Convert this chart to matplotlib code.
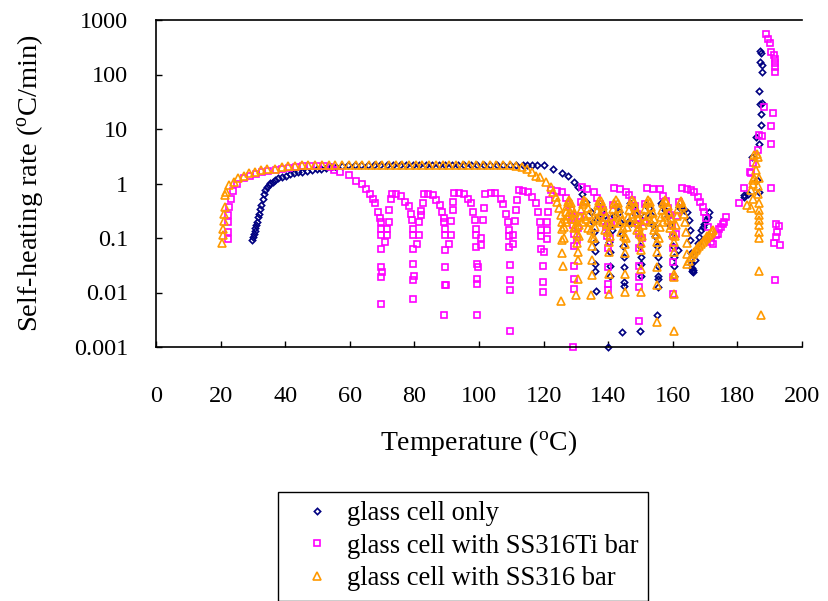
import matplotlib
matplotlib.use('Agg')
import matplotlib.pyplot as plt
from matplotlib.ticker import FixedLocator, FixedFormatter, NullLocator

plt.rcParams['font.family'] = ['Liberation Serif', 'DejaVu Serif']
plt.rcParams['mathtext.fontset'] = 'custom'
plt.rcParams['mathtext.rm'] = 'Liberation Serif'
plt.rcParams['mathtext.it'] = 'Liberation Serif:italic'

# ---------------- data ----------------
x_ticks = [0, 20, 40, 60, 80, 100, 120, 140, 160, 180, 200]
x_tick_labels = ['0', '20', '40', '60', '80', '100', '120', '140', '160', '180', '200']
y_ticks = [0.001, 0.01, 0.1, 1, 10, 100, 1000]
y_tick_labels = ['0.001', '0.01', '0.1', '1', '10', '100', '1000']
series_labels = ['glass cell only', 'glass cell with SS316Ti bar', 'glass cell with SS316 bar']

# glass cell only
glass_rise_T = [29.7, 30.0, 30.2, 30.5, 30.7, 31.0, 31.2, 31.6, 31.9, 32.3, 32.6, 33.0, 33.3, 33.8, 34.3,
                34.9, 35.4, 36.1, 36.9, 37.9, 39.0, 40.3, 41.6, 42.8, 44.0, 45.3, 46.7, 48.2, 49.8, 51.2,
                52.7, 54.2, 55.8]
glass_rise_r = [0.091, 0.105, 0.12, 0.135, 0.15, 0.175, 0.197, 0.24, 0.28, 0.34, 0.40, 0.52, 0.65, 0.76, 0.87,
                0.95, 1.01, 1.08, 1.15, 1.24, 1.32, 1.40, 1.48, 1.55, 1.61, 1.66, 1.70, 1.76, 1.81, 1.86,
                1.91, 1.98, 2.05]
glass_flat_T = [57.5, 59.5, 61.5, 63.5, 65.5, 67.5, 69.5, 71.5, 73.5, 75.5, 77.5, 79.5, 81.5, 83.5, 85.5,
                87.5, 89.5, 91.5, 93.5, 95.5, 97.5, 99.5, 101.5, 103.5, 105.5, 107.5, 109.5, 111.5, 113.5,
                115.0, 116.5, 118.0, 120.1]
glass_flat_r = [2.12, 2.16, 2.18, 2.18, 2.18, 2.18, 2.18, 2.18, 2.18, 2.18, 2.18, 2.18, 2.18, 2.18, 2.18,
                2.18, 2.18, 2.18, 2.18, 2.18, 2.18, 2.18, 2.18, 2.18, 2.18, 2.18, 2.18, 2.18, 2.18,
                2.18, 2.18, 2.17, 2.17]
glass_fall_T = [123.0, 125.8, 127.5, 129.4, 130.5, 132.0, 133.0, 134.6, 135.2, 135.6]
glass_fall_r = [1.83, 1.59, 1.38, 1.07, 0.87, 0.65, 0.46, 0.30, 0.2, 0.13]
glass_osc_T = [135.9, 135.9, 135.9, 136.0, 136.1, 136.8, 137.3,
               138.2, 138.9, 139.5, 140.0, 140.4, 140.6, 140.6, 140.7, 139.9, 141.3, 141.7, 142.4,
               143.2, 143.8, 144.3, 144.6, 144.9, 144.9, 144.9, 145.0, 144.4, 146.0, 146.7,
               147.0, 147.6, 148.3, 148.9, 149.4, 149.8, 150.1, 150.1, 150.1, 149.9, 151.2, 151.6,
               152.5, 153.3, 154.0, 154.6, 155.0, 155.3, 155.3, 155.3, 155.3, 155.4, 155.2, 156.3, 156.8,
               157.7, 158.5, 159.2, 159.8, 160.2, 160.4, 160.4, 160.5, 161.5, 162.0, 162.8, 163.6, 164.5,
               165.0, 165.2, 165.4, 165.6, 165.6, 165.9, 166.1, 166.4, 166.0,
               166.8, 167.2, 167.8, 168.2, 168.7, 169.2, 169.7, 170.2, 170.8, 171.3]
glass_osc_r = [0.085, 0.057, 0.033, 0.025, 0.0106, 0.24, 0.38,
               0.33, 0.26, 0.19, 0.13, 0.085, 0.055, 0.03, 0.02, 0.001, 0.14, 0.25, 0.38,
               0.3, 0.2, 0.12, 0.07, 0.045, 0.029, 0.0155, 0.013, 0.0019, 0.2, 0.44,
               0.19, 0.36, 0.27, 0.18, 0.11, 0.07, 0.045, 0.034, 0.02, 0.002, 0.25, 0.41,
               0.35, 0.26, 0.17, 0.11, 0.07, 0.045, 0.03, 0.02, 0.018, 0.0126, 0.0038, 0.43, 0.41,
               0.33, 0.25, 0.17, 0.11, 0.07, 0.045, 0.03, 0.02, 0.06, 0.37, 0.36, 0.33, 0.30,
               0.21, 0.138, 0.09, 0.052, 0.034, 0.028, 0.026, 0.024, 0.025,
               0.04, 0.06, 0.08, 0.105, 0.138, 0.16, 0.18, 0.21, 0.24, 0.30]
glass_run_T = [182.1, 182.1, 183.2, 184.6, 186.2, 186.8, 185.7, 186.8, 187.3, 187.3, 187.1, 187.6, 186.6,
               187.6, 187.6, 187.0, 187.3, 187.0]
glass_run_r = [0.57, 0.61, 0.65, 3.1, 1.15, 0.70, 7.2, 5.4, 11.8, 18.5, 28.3, 29.5, 49.5,
               112, 150, 171, 245, 275]

# glass cell with SS316Ti bar
ti_rise_T = [22.4, 22.4, 22.4, 22.4, 22.7, 23.2, 23.8, 25.0, 27.1, 29.1, 31.0, 32.9, 34.8, 37.0, 39.1,
             41.2, 43.4, 45.6, 47.8, 49.9, 52.1, 54.3, 55.0]
ti_rise_r = [0.094, 0.129, 0.197, 0.26, 0.37, 0.51, 0.73, 1.0, 1.24, 1.36, 1.48, 1.61, 1.70, 1.8, 1.87,
             1.95, 2.02, 2.08, 2.12, 2.12, 2.08, 2.0, 1.8]
ti_osc_T = [57.1, 59.6, 62.0, 63.8, 65.1, 66.1, 67.2, 67.9, 68.6, 69.3, 69.7, 69.7, 69.7, 69.7, 69.7,
            70.0, 69.7, 69.7, 71.0, 71.5, 71.5, 72.0, 72.0, 72.8, 73.1, 74.4,
            75.7, 77.2, 78.2, 79.0, 79.3, 79.6, 79.6, 79.6, 79.6, 80.0, 79.6, 79.6, 80.8, 81.3, 81.3,
            81.9, 81.9, 82.7, 83.1, 84.3,
            85.8, 86.8, 87.8, 88.6, 89.1, 89.3, 89.4, 89.4, 89.4, 89.4, 89.6, 89.9, 89.3, 90.6, 91.2,
            91.4, 91.9, 91.9, 92.4, 93.9,
            95.3, 96.5, 97.6, 98.2, 98.7, 99.2, 99.2, 99.2, 99.4, 99.8, 99.4, 99.4, 99.4, 100.7, 100.7,
            101.2, 101.5, 102.0, 103.6,
            105.1, 106.7, 107.5, 108.5, 108.9, 109.2, 109.2, 109.2, 109.5, 109.5, 109.5, 109.5, 110.6,
            110.6, 111.3, 111.6, 111.8, 112.3, 113.7,
            115.1, 116.5, 117.8, 118.2, 118.8, 119.1, 119.1, 119.1, 120.1, 119.9, 119.9, 119.9, 120.9,
            121.1, 121.2, 121.3, 121.6, 122.2, 124.0,
            125.8, 126.8, 127.8, 128.5, 128.9, 129.2, 129.3, 129.4, 129.4, 129.4, 129.5, 129.2, 130.3,
            130.8, 131.2, 131.6, 132.0, 133.5,
            135.6, 136.5, 137.5, 138.3, 138.9, 139.4, 139.7, 139.8, 139.8, 139.8, 139.8, 140.6, 141.0,
            141.4, 141.8, 143.5,
            145.4, 146.5, 147.5, 148.2, 148.8, 149.2, 149.5, 149.6, 149.6, 149.6, 149.6, 149.5, 150.5,
            151.0, 151.5, 152.1, 154.0,
            156.1, 157.0, 157.9, 158.6, 159.2, 159.7, 160.0, 160.1, 160.1, 160.1, 160.1, 160.9, 161.4,
            162.0, 163.0, 164.5,
            165.5, 166.6, 167.7, 168.5, 169.2, 169.7, 170.2, 170.8, 171.4, 171.9, 172.3, 173.4, 173.9,
            174.4, 174.9, 175.4, 175.7, 176.4]
ti_osc_r = [1.6, 1.42, 1.12, 0.97, 0.78, 0.65, 0.51, 0.43, 0.30, 0.228, 0.197, 0.149, 0.112, 0.064, 0.029,
            0.024, 0.019, 0.0062, 0.085, 0.112, 0.149, 0.197, 0.33, 0.53, 0.65, 0.63,
            0.58, 0.46, 0.38, 0.28, 0.21, 0.149, 0.112, 0.064, 0.034, 0.02, 0.017, 0.0075, 0.079, 0.112, 0.197,
            0.26, 0.31, 0.43, 0.65, 0.64,
            0.61, 0.49, 0.40, 0.30, 0.228, 0.197, 0.149, 0.112, 0.059, 0.029, 0.014, 0.014, 0.0039, 0.079, 0.112,
            0.205, 0.32, 0.46, 0.67, 0.66,
            0.65, 0.53, 0.43, 0.30, 0.21, 0.149, 0.115, 0.068, 0.034, 0.029, 0.018, 0.0145, 0.0039, 0.074, 0.1,
            0.21, 0.36, 0.65, 0.68,
            0.67, 0.53, 0.42, 0.28, 0.197, 0.138, 0.11, 0.068, 0.032, 0.017, 0.0113, 0.002, 0.079,
            0.112, 0.205, 0.32, 0.49, 0.75, 0.72,
            0.70, 0.57, 0.43, 0.30, 0.197, 0.138, 0.107, 0.064, 0.055, 0.031, 0.0156, 0.0102, 0.097,
            0.138, 0.2, 0.30, 0.49, 0.75, 0.72,
            0.70, 0.55, 0.42, 0.32, 0.24, 0.17, 0.12, 0.07, 0.031, 0.018, 0.0118, 0.001, 0.09,
            0.15, 0.25, 0.45, 0.87, 0.8,
            0.70, 0.55, 0.42, 0.32, 0.23, 0.16, 0.11, 0.065, 0.029, 0.0145, 0.011, 0.1, 0.2,
            0.4, 0.81, 0.78,
            0.70, 0.61, 0.49, 0.38, 0.27, 0.18, 0.12, 0.065, 0.031, 0.019, 0.0126, 0.003, 0.1,
            0.2, 0.42, 0.81, 0.8,
            0.78, 0.6, 0.47, 0.36, 0.26, 0.17, 0.11, 0.065, 0.036, 0.019, 0.0095, 0.12, 0.25,
            0.45, 0.81, 0.78,
            0.75, 0.70, 0.57, 0.46, 0.37, 0.3, 0.228, 0.16, 0.105, 0.085, 0.079, 0.112, 0.12,
            0.149, 0.16, 0.18, 0.197, 0.24]
ti_run_T = [180.6, 182.1, 184.0, 184.2, 184.7, 186.3, 186.8, 187.5, 188.1, 188.8, 189.6, 190.2, 190.4,
            191.2, 191.6, 191.6, 191.6, 191.6, 190.9, 190.4, 190.4, 190.4, 191.9, 192.9, 192.2, 191.9,
            191.4, 193.3, 191.6]
ti_run_r = [0.43, 0.81, 1.63, 1.53, 2.33, 4.1, 7.7, 7.4, 25.6, 555, 444, 375, 262,
            228, 190, 161, 136, 113, 19.4, 11.3, 5.4, 0.81, 0.184, 0.164, 0.129, 0.105,
            0.081, 0.074, 0.0167]

# glass cell with SS316 bar
ss_rise_T = [20.4, 20.7, 20.7, 20.9, 21.1, 21.4, 21.4, 21.7, 22.7, 24.0, 25.5, 27.1, 28.9, 30.7, 32.5,
             34.5, 36.9, 39.0, 41.0]
ss_rise_r = [0.081, 0.112, 0.149, 0.205, 0.28, 0.37, 0.61, 0.70, 0.93, 1.07, 1.24, 1.36, 1.53, 1.63, 1.75,
             1.83, 1.88, 2.02, 2.08]
ss_flat_T = [43.1, 45.2, 47.2, 49.3, 51.4, 53.5, 55.5, 57.6, 59.7, 61.8, 63.8, 65.9, 68.0, 70.1, 72.1,
             74.2, 76.3, 78.4, 80.4, 82.5, 84.6, 86.7, 88.7, 90.8, 92.9, 95.0, 97.0, 99.1, 101.2, 103.3,
             105.3, 107.4, 109.5, 111.6]
ss_flat_r = [2.12, 2.14, 2.16, 2.18, 2.18, 2.2, 2.2, 2.2, 2.2, 2.2, 2.2, 2.2, 2.2, 2.2, 2.2,
             2.2, 2.2, 2.2, 2.2, 2.2, 2.2, 2.2, 2.2, 2.2, 2.2, 2.2, 2.2, 2.2, 2.2, 2.2,
             2.18, 2.16, 2.14, 2.1]
ss_fall_T = [113.4, 114.9, 116.4, 117.6, 118.9, 120.6, 122.2, 123.0, 123.7, 124.2, 124.7, 125.3, 125.8,
             125.8, 125.8, 125.8, 125.9, 125.3]
ss_fall_r = [2.02, 1.88, 1.6, 1.4, 1.32, 1.07, 0.87, 0.70, 0.57, 0.46, 0.35, 0.26, 0.197,
             0.149, 0.09, 0.052, 0.031, 0.0069]
ss_osc_T = [126.2, 126.4, 126.6, 126.9, 127.2, 127.6, 128.0, 128.5, 128.9, 129.3, 129.6, 129.9, 130.2, 130.4,
            127.0, 127.5, 128.2, 128.8, 129.5, 130.5, 130.5, 130.5, 130.0,
            130.9, 131.1, 131.4, 131.7, 132.1, 132.6, 133.1, 133.6, 134.0, 134.4, 134.7, 134.9,
            131.8, 132.4, 133.0, 133.8, 135.1, 135.1, 135.1, 134.6,
            135.5, 135.8, 136.1, 136.4, 136.8, 137.3, 137.9, 138.4, 138.8, 139.2, 139.5, 139.8,
            136.9, 137.6, 138.3, 139.0, 140.1, 140.1, 140.1, 140.1,
            140.5, 140.8, 141.1, 141.5, 141.9, 142.4, 142.9, 143.4, 143.8, 144.2, 144.5, 144.8,
            141.7, 142.6, 143.2, 144.0, 145.1, 145.1, 145.1, 145.1,
            145.5, 145.8, 146.1, 146.5, 146.9, 147.4, 147.9, 148.4, 148.8, 149.2, 149.5, 149.8,
            146.8, 147.6, 148.3, 149.0, 150.1, 150.1, 150.1, 150.1,
            150.5, 150.8, 151.1, 151.5, 151.9, 152.4, 152.9, 153.4, 153.9, 154.3, 154.6, 154.9,
            151.8, 152.6, 153.3, 154.1, 155.2, 155.2, 155.2, 155.2, 155.0,
            155.6, 155.9, 156.2, 156.6, 157.0, 157.5, 158.0, 158.5, 158.9, 159.3, 159.7, 160.0,
            156.9, 157.7, 158.4, 159.1, 160.3, 160.3, 160.3, 160.3, 160.3, 160.3,
            160.7, 161.0, 161.3, 161.7, 162.1, 162.6, 163.1, 163.5, 163.8, 164.1, 164.3, 164.5, 164.5,
            165.0, 165.6, 166.1, 166.6, 167.1, 167.6, 168.1, 168.6, 169.2, 169.7, 170.2, 170.7, 171.2,
            171.7, 172.1, 172.6]
ss_osc_r = [0.1, 0.16, 0.22, 0.3, 0.38, 0.46, 0.5, 0.44, 0.36, 0.29, 0.22, 0.16, 0.12, 0.08,
            0.2, 0.26, 0.3, 0.22, 0.15, 0.055, 0.039, 0.018, 0.0089,
            0.11, 0.17, 0.24, 0.33, 0.42, 0.5, 0.45, 0.36, 0.27, 0.2, 0.14, 0.1,
            0.2, 0.25, 0.22, 0.15, 0.07, 0.039, 0.021, 0.0089,
            0.1, 0.16, 0.23, 0.31, 0.4, 0.48, 0.47, 0.39, 0.31, 0.24, 0.18, 0.13,
            0.21, 0.27, 0.2, 0.14, 0.085, 0.055, 0.022, 0.0095,
            0.11, 0.17, 0.25, 0.34, 0.43, 0.5, 0.44, 0.36, 0.28, 0.21, 0.15, 0.11,
            0.2, 0.25, 0.19, 0.13, 0.079, 0.052, 0.022, 0.0102,
            0.1, 0.16, 0.24, 0.33, 0.42, 0.49, 0.45, 0.37, 0.29, 0.22, 0.16, 0.12,
            0.2, 0.27, 0.2, 0.14, 0.08, 0.059, 0.027, 0.0102,
            0.11, 0.17, 0.25, 0.34, 0.44, 0.5, 0.45, 0.37, 0.29, 0.22, 0.16, 0.12,
            0.21, 0.27, 0.2, 0.14, 0.085, 0.056, 0.029, 0.0136, 0.0029,
            0.1, 0.16, 0.24, 0.33, 0.43, 0.5, 0.46, 0.38, 0.3, 0.23, 0.17, 0.12,
            0.2, 0.27, 0.21, 0.15, 0.085, 0.055, 0.022, 0.019, 0.0095, 0.002,
            0.11, 0.17, 0.25, 0.34, 0.43, 0.47, 0.38, 0.28, 0.2, 0.13, 0.08, 0.05, 0.034,
            0.038, 0.045, 0.05, 0.055, 0.059, 0.066, 0.072, 0.078, 0.085, 0.092, 0.1, 0.107, 0.115,
            0.125, 0.132, 0.138]
ss_run_T = [183.0, 184.2, 184.2, 184.7, 184.7, 184.7, 185.2, 185.2, 185.7, 185.7, 186.0, 186.3, 186.8,
            186.5, 186.5, 186.8, 186.8, 186.8, 186.8, 186.8, 186.8, 186.8, 186.8, 187.3]
ss_run_r = [0.4, 0.35, 0.75, 0.53, 1.0, 1.15, 1.24, 3.3, 1.75, 2.33, 3.55, 3.1, 1.24,
            0.65, 0.9, 0.43, 0.32, 0.26, 0.21, 0.17, 0.129, 0.098, 0.025, 0.0038]

glass_T = glass_rise_T + glass_flat_T + glass_fall_T + glass_osc_T + glass_run_T
glass_r = glass_rise_r + glass_flat_r + glass_fall_r + glass_osc_r + glass_run_r
ti_T = ti_rise_T + ti_osc_T + ti_run_T
ti_r = ti_rise_r + ti_osc_r + ti_run_r
ss_T = ss_rise_T + ss_flat_T + ss_fall_T + ss_osc_T + ss_run_T
ss_r = ss_rise_r + ss_flat_r + ss_fall_r + ss_osc_r + ss_run_r

# ---------------- figure ----------------
W, H = 829, 601
fig = plt.figure(figsize=(W / 100, H / 100), dpi=100)
ax_l, ax_r, ax_t, ax_b = 156, 802, 20, 347
ax = fig.add_axes([ax_l / W, 1 - ax_b / H, (ax_r - ax_l) / W, (ax_b - ax_t) / H])

navy, magenta, orange = '#000080', '#FF00FF', '#FF9900'
h1, = ax.plot(glass_T, glass_r, linestyle='none', marker='D', markersize=3.2, mfc='none',
              mec=navy, mew=1.2, clip_on=False, label=series_labels[0])
h2, = ax.plot(ti_T, ti_r, linestyle='none', marker='s', markersize=3.7, mfc='none',
              mec=magenta, mew=1.2, clip_on=False, label=series_labels[1])
h3, = ax.plot(ss_T, ss_r, linestyle='none', marker='^', markersize=5.1, mfc='none',
              mec=orange, mew=1.2, clip_on=False, label=series_labels[2])

ax.set_yscale('log')
ax.set_xlim(0, 200)
ax.set_ylim(0.001, 1000)
ax.xaxis.set_major_locator(FixedLocator(x_ticks))
ax.xaxis.set_major_formatter(FixedFormatter(x_tick_labels))
ax.xaxis.set_minor_locator(NullLocator())
ax.yaxis.set_major_locator(FixedLocator(y_ticks))
ax.yaxis.set_major_formatter(FixedFormatter(y_tick_labels))
ax.yaxis.set_minor_locator(NullLocator())

ax.tick_params(axis='x', direction='in', length=4, width=1.0, pad=28, labelsize=17.5,
               top=False, colors='black')
ax.tick_params(axis='y', direction='in', length=4, width=1.0, pad=20, labelsize=17.5,
               right=False, colors='black')
for side in ['left', 'bottom', 'top']:
    ax.spines[side].set_linewidth(1.2)
    ax.spines[side].set_color('black')
ax.spines['right'].set_visible(False)

ax.set_xlabel('Temperature ($^{\\mathrm{o}}$C)', fontsize=20, labelpad=15)
ax.set_ylabel('Self-heating rate ($^{\\mathrm{o}}$C/min)', fontsize=20.5, labelpad=21)

leg = fig.legend(handles=[h1, h2, h3], labels=series_labels, loc='upper left',
                 bbox_to_anchor=(278 / W, 1 - 492 / H), frameon=True, fancybox=False,
                 edgecolor='black', framealpha=1, fontsize=19.2, borderpad=0.35,
                 handlelength=2.2, handletextpad=0.05, labelspacing=0.28,
                 borderaxespad=0, numpoints=1)
leg.get_frame().set_linewidth(1.0)

fig.savefig('out.png', dpi=100)
